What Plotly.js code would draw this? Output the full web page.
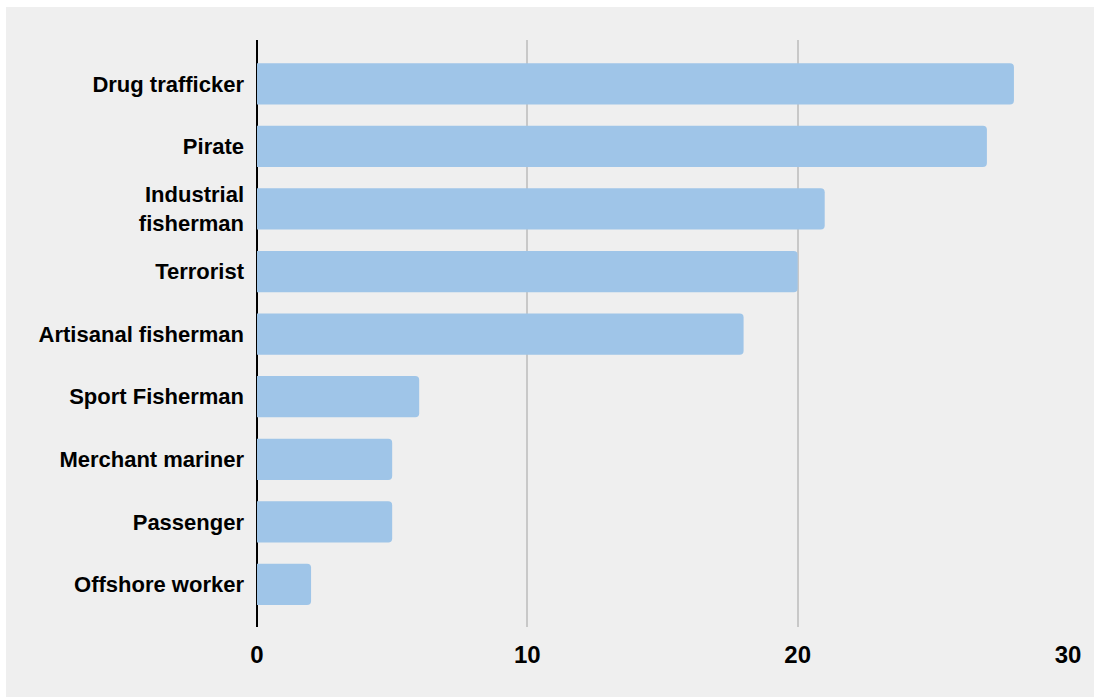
<!DOCTYPE html>
<html>
<head>
<meta charset="utf-8">
<script src="https://cdn.plot.ly/plotly-3.0.1.min.js"></script>
<style>
  html, body { margin: 0; padding: 0; background: #ffffff; }
  #chart { position: absolute; left: 6px; top: 7px; width: 1088px; height: 690px; }
</style>
</head>
<body>
<div id="chart"></div>
<script>
const categories = [
  "Drug trafficker",
  "Pirate",
  "Industrial<br>fisherman",
  "Terrorist",
  "Artisanal fisherman",
  "Sport Fisherman",
  "Merchant mariner",
  "Passenger",
  "Offshore worker"
];
const values = [28, 27, 21, 20, 18, 6, 5, 5, 2];
const xTicks = [0, 10, 20, 30];

const trace = {
  type: 'bar',
  orientation: 'h',
  y: categories,
  x: values,
  width: 0.66,
  marker: { color: '#9fc5e8', cornerradius: 4, line: { width: 0 } },
  hoverinfo: 'x+y'
};

const layout = {
  width: 1088,
  height: 690,
  paper_bgcolor: '#efefef',
  plot_bgcolor: '#efefef',
  margin: { l: 251, r: 26, t: 33, b: 70 },
  showlegend: false,
  font: { family: 'Liberation Sans, Arial, sans-serif', color: '#000000' },
  xaxis: {
    range: [0, 30],
    tickvals: xTicks,
    ticktext: xTicks.map(String),
    showgrid: true,
    gridcolor: '#c8c8c8',
    gridwidth: 2,
    zeroline: true,
    zerolinecolor: '#000000',
    zerolinewidth: 2,
    showline: false,
    ticks: '',
    ticklabelstandoff: 11,
    tickfont: { size: 24, family: 'Liberation Sans, Arial, sans-serif', weight: 'bold', color: '#000' },
    fixedrange: true
  },
  yaxis: {
    type: 'category',
    range: [8.68, -0.70],
    showgrid: false,
    zeroline: false,
    showline: false,
    ticks: '',
    ticklabelstandoff: 12,
    tickfont: { size: 22, family: 'Liberation Sans, Arial, sans-serif', weight: 'bold', color: '#000' },
    fixedrange: true
  }
};

Plotly.newPlot('chart', [trace], layout, { displayModeBar: false, staticPlot: true });
</script>
</body>
</html>
